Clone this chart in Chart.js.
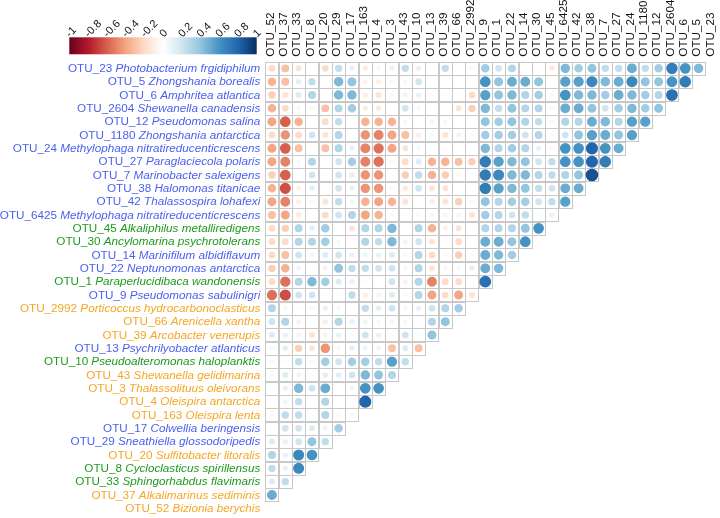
<!DOCTYPE html>
<html>
<head>
<meta charset="utf-8">
<script src="https://cdn.jsdelivr.net/npm/chart.js@4/dist/chart.umd.min.js"></script>
<style>
html,body{margin:0;padding:0;background:#fff;}
#wrap{width:720px;height:518px;position:relative;}
</style>
</head>
<body>
<div id="wrap"><canvas id="c" width="720" height="518"></canvas></div>
<script>
// ---- DATA ----
const otuIds = ["OTU_23","OTU_5","OTU_6","OTU_2604","OTU_12","OTU_1180","OTU_24","OTU_27","OTU_7","OTU_38","OTU_42","OTU_6425","OTU_45","OTU_30","OTU_14","OTU_22","OTU_1","OTU_9","OTU_2992","OTU_66","OTU_39","OTU_13","OTU_10","OTU_43","OTU_3","OTU_4","OTU_163","OTU_17","OTU_29","OTU_20","OTU_8","OTU_33","OTU_37","OTU_52"];
const taxaNames = ["Photobacterium frgidiphilum","Zhongshania borealis","Amphritea atlantica","Shewanella canadensis","Pseudomonas salina","Zhongshania antarctica","Methylophaga nitratireducenticrescens","Paraglaciecola polaris","Marinobacter salexigens","Halomonas titanicae","Thalassospira lohafexi","Methylophaga nitratireducenticrescens","Alkaliphilus metalliredigens","Ancylomarina psychrotolerans","Marinifilum albidiflavum","Neptunomonas antarctica","Paraperlucidibaca wandonensis","Pseudomonas sabulinigri","Porticoccus hydrocarbonoclasticus","Arenicella xantha","Arcobacter venerupis","Psychrilyobacter atlanticus","Pseudoalteromonas haloplanktis","Shewanella gelidimarina","Thalassolituus oleivorans","Oleispira antarctica","Oleispira lenta","Colwellia beringensis","Sneathiella glossodoripedis","Sulfitobacter litoralis","Cycloclasticus spirillensus","Sphingorhabdus flavimaris","Alkalimarinus sediminis","Bizionia berychis"];
const taxaGroup = ["b","b","b","b","b","b","b","b","b","b","b","b","g","g","b","b","g","b","o","o","o","b","g","o","o","o","o","b","b","o","g","g","o","o"];
// column labels = row ids reversed
const columnLabels = otuIds.slice().reverse();
const colorbarTicks = [-1,-0.8,-0.6,-0.4,-0.2,0,0.2,0.4,0.6,0.8,1];
// correlation values: row i (OTU in otuIds order), entries for columns 0..(32-i)
const corrValues = [
[-0.2,-0.3,-0.15,0,-0.2,0.25,0.1,-0.1,-0.05,-0.1,0.25, 0.1,0.03,0.25,0,-0.05,0.35,0.2,0.3,0.03,0.03,-0.12, 0.45,0.35,0.4,0.25,0.25,0.5,0.25,0.35,0.7,0.6,0.45],
[-0.35,-0.3,0.12,0.25,-0.03,0.45,0.4,-0.08,-0.1,0.05,0.05, 0.2,0.03,0,0.02,0.03,0.6,0.4,0.5,0.5,0.4,0.03, 0.55,0.55,0.65,0.45,0.5,0.65,0.4,0.4,0.6,0.7],
[-0.25,-0.15,0.15,0.3,0,0.45,0.45,-0.1,-0.15,0.05,0.08, 0.1,-0.03,0.02,0,-0.2,0.55,0.4,0.45,0.3,0.35,0.05, 0.6,0.45,0.45,0.35,0.5,0.45,0.35,0.3,0.75],
[-0.35,-0.2,-0.05,0.05,-0.3,0.3,0.35,-0.1,-0.12,-0.03,0.2, 0.05,0,0.02,-0.15,-0.25,0.45,0.25,0.4,0.3,0.3,0.05, 0.5,0.5,0.4,0.2,0.35,0.45,0.35,0.4],
[-0.4,-0.6,-0.35,-0.03,-0.2,0.25,0.03,-0.35,-0.35,-0.35,-0.05, 0,-0.08,0.05,0,-0.03,0.4,0.35,0.4,0.3,0.25,0.05, 0.3,0.3,0.5,0.45,0.3,0.55,0.55],
[-0.2,-0.45,-0.2,0.2,-0.15,0.3,0,-0.45,-0.5,-0.4,-0.3, -0.1,0.05,-0.15,0.08,0.03,0.35,0.35,0.35,0.2,0.3,0.03, 0.2,0.4,0.55,0.5,0.4,0.55],
[-0.4,-0.6,-0.3,0,-0.3,0.3,0.1,-0.5,-0.55,-0.4,-0.15, 0.05,0.03,-0.03,-0.03,0.02,0.45,0.3,0.35,0.3,0.1,-0.05, 0.6,0.6,0.8,0.6,0.5],
[-0.4,-0.5,0.05,0.3,0.02,0.2,0.35,-0.5,-0.55,-0.05,-0.2, 0.15,-0.35,-0.35,-0.3,-0.25,0.7,0.55,0.45,0.4,0.2,0.25, 0.6,0.6,0.8,0.7],
[-0.25,-0.6,0.03,0.2,0.02,0.2,0.12,-0.45,-0.45,0.02,-0.25, 0.25,-0.35,-0.25,-0.05,0.02,0.7,0.65,0.45,0.45,0.3,0.25, 0.3,0.4,0.87],
[-0.35,-0.65,-0.08,0.12,0.02,0.2,0.1,-0.45,-0.45,-0.05,-0.12, 0.2,-0.15,-0.15,0.02,0,0.7,0.55,0.45,0.4,0.25,0.2, 0.5,0.5],
[-0.4,-0.5,-0.1,0.05,-0.15,0.25,0.08,-0.35,-0.4,-0.35,-0.15, 0,-0.1,-0.15,-0.25,-0.05,0.4,0.3,0.35,0.35,0.2,0.25, 0.55],
[-0.3,-0.4,-0.12,0,-0.2,0.2,0.3,-0.4,-0.35,-0.05,0.03, 0.05,-0.08,-0.08,-0.08,-0.15,0.35,0.3,0.2,0.25,0.02,-0.1],
[-0.2,-0.25,0.3,0.12,0.35,-0.03,-0.15,0.3,0.3,0.45,0, 0.3,-0.35,-0.08,-0.15,0.03,0.3,0.3,0.3,0.4,0.6],
[-0.2,-0.2,0.3,0.3,0.35,0.05,0,0.3,0.25,0.45,0.08, 0.2,-0.15,0.03,-0.2,0,0.5,0.5,0.4,0.6],
[-0.2,-0.3,0.2,0.08,0.15,0.2,0.1,0.08,0.1,0.15,0.05, 0.3,-0.2,-0.05,-0.25,0.03,0.5,0.45,0.35],
[-0.25,-0.35,0.08,0.03,0.08,0.4,0.25,0.25,0.2,0.2,0.05, 0.3,-0.15,0.05,0.05,0.12,0.5,0.45],
[-0.2,-0.55,0.3,0.45,0.35,0.15,0.1,0.03,0,0.2,-0.08, 0.3,-0.5,-0.2,-0.2,-0.03,0.75],
[-0.55,-0.65,0.2,0.2,0.03,0.02,0.25,-0.1,-0.08,0.15,-0.05, 0.3,-0.4,-0.2,-0.4,-0.15],
[0.3,0.05,0.03,0.05,0.1,0.05,0.03,0.25,0.12,0.2,0.05, 0.1,0.2,0.3,0.35],
[0.2,0.3,-0.08,0.02,-0.1,0.3,0.1,0.08,0.05,-0.08,0.05, 0,0.3,0.4],
[0.15,0.1,-0.08,-0.15,-0.08,0.1,0.03,0.2,0.1,-0.03,0.2, 0.03,0.4],
[0.05,0.12,-0.25,-0.15,-0.45,0.05,0.12,0.08,0.08,-0.3,0.15, -0.3],
[0.05,0.03,0.25,0.05,0.35,0.2,0.35,0.35,0.25,0.55,0.25],
[0.05,0.15,0.08,-0.03,0.12,0.12,0.2,0.45,0.4,0.3],
[0.03,0.1,0.45,0.2,0.5,0.02,0.08,0.6,0.6],
[0.03,0.08,0.25,-0.03,0.3,0.02,-0.03,0.8],
[0.05,0.25,0.25,0.02,0.3,0.05,0.05],
[0.02,0.2,0.2,0.15,0.08,0.35],
[0.15,0.1,0.2,0.4,0.25],
[0.3,0.1,0.65,0.6],
[0.25,0.1,0.65],
[0.15,0.25],
[0.5],
[]
];

// ---- STYLE ----
const groupColors = { b: "#4a5ff0", g: "#1f9a1f", o: "#f5a623" };
const rdbu = ["#67001F","#B2182B","#D6604D","#F4A582","#FDDBC7","#FFFFFF","#D1E5F0","#92C5DE","#4393C3","#2166AC","#053061"];
function hex2rgb(h){return [parseInt(h.slice(1,3),16),parseInt(h.slice(3,5),16),parseInt(h.slice(5,7),16)];}
const rdbuRgb = rdbu.map(hex2rgb);
function corrColor(v){
  const t = (Math.max(-1,Math.min(1,v))+1)/2*(rdbuRgb.length-1);
  const i = Math.min(rdbuRgb.length-2, Math.floor(t));
  const f = t - i;
  const a = rdbuRgb[i], b = rdbuRgb[i+1];
  return `rgb(${Math.round(a[0]+(b[0]-a[0])*f)},${Math.round(a[1]+(b[1]-a[1])*f)},${Math.round(a[2]+(b[2]-a[2])*f)})`;
}
const FONT = "'Liberation Sans', Arial, sans-serif";
const FS = 11.7;

const points = [];
corrValues.forEach((row, r) => row.forEach((v, c) => points.push({ x: c, y: r, v: v })));

function cellSize(chart){ const xs = chart.scales.x; return Math.abs(xs.getPixelForValue(1) - xs.getPixelForValue(0)); }
function radiusFor(ctx){ const v = ctx.raw ? ctx.raw.v : 0; return 0.45 * Math.sqrt(Math.abs(v)) * cellSize(ctx.chart); }
function colorFor(ctx){ return corrColor(ctx.raw ? ctx.raw.v : 0); }

const gridPlugin = {
  id: 'grid',
  beforeDatasetsDraw(chart){
    const ctx = chart.ctx, xs = chart.scales.x, ys = chart.scales.y;
    const s = cellSize(chart);
    ctx.save();
    ctx.strokeStyle = '#c8c8c8';
    ctx.lineWidth = 1;
    corrValues.forEach((row, r) => row.forEach((v, c) => {
      const cx = xs.getPixelForValue(c), cy = ys.getPixelForValue(r);
      ctx.strokeRect(Math.round(cx - s/2) + 0.5, Math.round(cy - s/2) + 0.5, Math.round(s), Math.round(s));
    }));
    ctx.restore();
  }
};

const labelPlugin = {
  id: 'labels',
  afterDraw(chart){
    const ctx = chart.ctx, xs = chart.scales.x, ys = chart.scales.y;
    ctx.save();
    // row labels
    const rightX = xs.getPixelForValue(-0.5) - 5;
    ctx.textBaseline = 'middle';
    otuIds.forEach((id, r) => {
      const y = ys.getPixelForValue(r) + 0.5;
      ctx.fillStyle = groupColors[taxaGroup[r]];
      ctx.font = `${FS}px ${FONT}`;
      const w1 = ctx.measureText(id + ' ').width;
      ctx.font = `italic ${FS}px ${FONT}`;
      const w2 = ctx.measureText(taxaNames[r]).width;
      const x0 = rightX - w1 - w2;
      ctx.font = `${FS}px ${FONT}`;
      ctx.textAlign = 'left';
      ctx.fillText(id + ' ', x0, y);
      ctx.font = `italic ${FS}px ${FONT}`;
      ctx.fillText(taxaNames[r], x0 + w1, y);
    });
    // column labels
    ctx.fillStyle = '#111';
    ctx.font = `${FS}px ${FONT}`;
    const topY = ys.getPixelForValue(-0.5) - 5;
    columnLabels.forEach((lab, c) => {
      const x = xs.getPixelForValue(c) - 1.5;
      ctx.save();
      ctx.translate(x, topY);
      ctx.rotate(-Math.PI/2);
      ctx.textAlign = 'left';
      ctx.textBaseline = 'middle';
      ctx.fillText(lab, 0, 0);
      ctx.restore();
    });
    // colorbar
    const bx0 = 69.3, bx1 = 256.7, by0 = 37.3, by1 = 54.3;
    const grad = ctx.createLinearGradient(bx0, 0, bx1, 0);
    rdbu.forEach((c, i) => grad.addColorStop(i/(rdbu.length-1), c));
    ctx.fillStyle = grad;
    ctx.fillRect(bx0, by0, bx1 - bx0, by1 - by0);
    ctx.fillStyle = '#111';
    ctx.font = `11px ${FONT}`;
    colorbarTicks.forEach(t => {
      const x = bx0 + (t + 1)/2*(bx1 - bx0);
      ctx.save();
      ctx.translate(x - 1.5, 35.5);
      ctx.rotate(-Math.PI/4);
      ctx.textAlign = 'left';
      ctx.textBaseline = 'middle';
      ctx.fillText(String(t), 0, 0);
      ctx.restore();
    });
    ctx.restore();
  }
};

new Chart(document.getElementById('c'), {
  type: 'scatter',
  data: {
    datasets: [{
      data: points,
      pointRadius: radiusFor,
      pointHoverRadius: radiusFor,
      backgroundColor: colorFor,
      borderColor: colorFor,
      borderWidth: (ctx) => (ctx.raw && ctx.raw.v !== 0) ? 1.4 : 0,
      clip: false
    }]
  },
  options: {
    responsive: false,
    animation: false,
    events: [],
    layout: { padding: { left: 265.3, top: 61.7, right: 1.4, bottom: 3 } },
    scales: {
      x: { type: 'linear', min: -0.5, max: 33.5, display: false },
      y: { type: 'linear', min: -0.5, max: 33.5, reverse: true, display: false }
    },
    plugins: { legend: { display: false }, tooltip: { enabled: false } }
  },
  plugins: [gridPlugin, labelPlugin]
});
</script>
</body>
</html>
